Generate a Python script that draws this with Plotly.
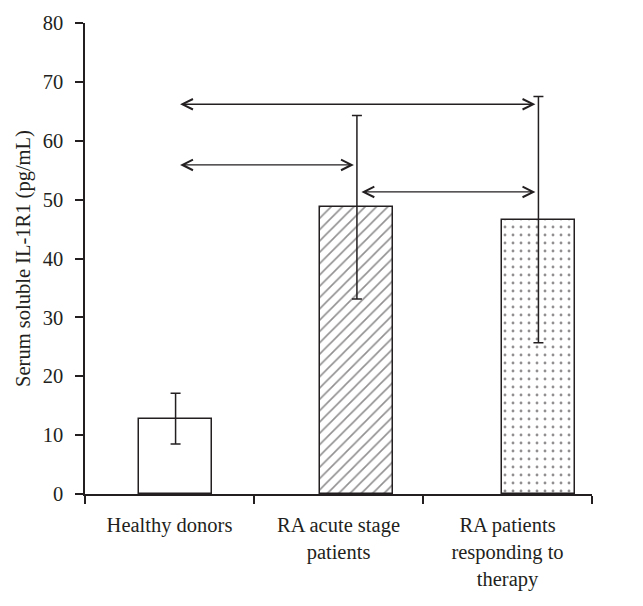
import plotly.graph_objects as go

# ---- data ----
categories = ["Healthy donors", "RA acute stage<br>patients", "RA patients<br>responding to<br>therapy"]
means = [12.8, 48.7, 46.6]
errors = [4.3, 15.6, 20.9]
# comparisons: (group a, group b, height of the arrow)
comp_a = [0, 0, 1]
comp_b = [2, 1, 2]
comp_y = [66.2, 55.9, 51.3]

# ---- layout constants ----
bar_pos = [0.536, 1.609, 2.683]   # bars sit slightly right of their category slot
bar_w = 0.432
FONT = "Liberation Serif"
INK = "#231f20"
FS = 20.5

fig = go.Figure()
patterns = [dict(shape=""), dict(shape="/", size=8, solidity=0.2, fgcolor=INK),
            dict(shape=".", size=8, solidity=0.1, fgcolor=INK)]
for i in range(3):
    fig.add_trace(go.Bar(
        x=[bar_pos[i]], y=[means[i]], width=bar_w,
        marker=dict(color="white", line=dict(color=INK, width=1.5), pattern=patterns[i]),
        error_y=dict(type="data", array=[errors[i]], color=INK, thickness=1.5, width=5),
        showlegend=False, hoverinfo="skip",
    ))

for a, b, yv in zip(comp_a, comp_b, comp_y):
    fig.add_annotation(
        x=bar_pos[b], y=yv, ax=bar_pos[a], ay=yv,
        xref="x", yref="y", axref="x", ayref="y",
        text="", showarrow=True, arrowhead=5, startarrowhead=5,
        arrowside="end+start", arrowsize=1.6, startarrowsize=1.6, arrowwidth=1.3,
        arrowcolor=INK, standoff=3, startstandoff=3,
    )

fig.update_layout(
    width=643, height=606,
    margin=dict(l=85, r=51, t=23, b=112),
    paper_bgcolor="white", plot_bgcolor="white",
    font=dict(family=FONT, size=FS, color=INK),
    bargap=0,
)
fig.update_xaxes(
    range=[0, 3], tickmode="array", tickvals=[0.5, 1.5, 2.5], ticktext=categories,
    ticks="", showgrid=False, zeroline=False,
    showline=True, linecolor=INK, linewidth=1.5,
    ticklabelstandoff=12,
    tickfont=dict(family=FONT, size=FS, color=INK),
    minor=dict(tickmode="array", tickvals=[0, 1, 2, 3], ticks="outside",
               ticklen=8, tickwidth=1.5, tickcolor=INK, showgrid=False),
)
fig.update_yaxes(
    range=[0, 80], tickmode="linear", tick0=0, dtick=10,
    ticks="outside", ticklen=8, tickwidth=1.5, tickcolor=INK,
    showline=True, linecolor=INK, linewidth=1.5,
    showgrid=False, zeroline=False, ticklabelstandoff=8,
    tickfont=dict(family=FONT, size=FS, color=INK),
    title=dict(text="Serum soluble IL-1R1 (pg/mL)", font=dict(family=FONT, size=FS, color=INK), standoff=6),
)

fig.write_html("out.html")
